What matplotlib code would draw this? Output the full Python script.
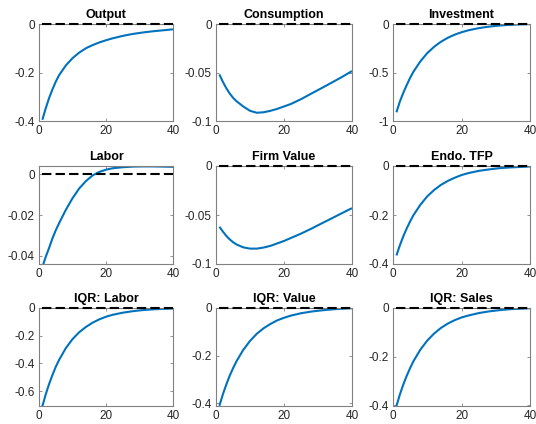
import numpy as np
import matplotlib
matplotlib.use('Agg')
import matplotlib.pyplot as plt
from matplotlib.ticker import FuncFormatter

# impulse responses (periods after the shock)
periods = [1, 2, 3, 4, 5, 6, 8, 10, 12, 14, 16, 18, 20, 22, 25, 28, 31, 34, 37, 40]

titles = ['Output', 'Consumption', 'Investment',
          'Labor', 'Firm Value', 'Endo. TFP',
          'IQR: Labor', 'IQR: Value', 'IQR: Sales']

output = [-0.395, -0.348, -0.306, -0.27, -0.238, -0.211, -0.171, -0.141, -0.118, -0.1,
          -0.087, -0.076, -0.067, -0.059, -0.049, -0.041, -0.035, -0.03, -0.026, -0.022]
consumption = [-0.052, -0.0595, -0.066, -0.0715, -0.076, -0.0795, -0.085, -0.0895, -0.0915, -0.091,
               -0.0895, -0.0875, -0.085, -0.0825, -0.0775, -0.0718, -0.0662, -0.0605, -0.0547, -0.0485]
investment = [-0.91, -0.80, -0.71, -0.63, -0.555, -0.49, -0.385, -0.30, -0.235, -0.183,
              -0.142, -0.11, -0.085, -0.065, -0.043, -0.027, -0.016, -0.009, -0.004, -0.001]
labor = [-0.0455, -0.0405, -0.0362, -0.0315, -0.0275, -0.024, -0.0175, -0.0118, -0.007, -0.0034,
         -0.0006, 0.0011, 0.0022, 0.0029, 0.0034, 0.0037, 0.0038, 0.0038, 0.0037, 0.0036]
firm_value = [-0.062, -0.0668, -0.0712, -0.0748, -0.0777, -0.08, -0.083, -0.0843, -0.0843, -0.0832,
              -0.0815, -0.079, -0.0765, -0.0735, -0.069, -0.064, -0.0587, -0.0535, -0.0482, -0.043]
endo_tfp = [-0.365, -0.324, -0.287, -0.255, -0.226, -0.2, -0.158, -0.124, -0.098, -0.077,
            -0.061, -0.048, -0.037, -0.029, -0.02, -0.014, -0.009, -0.006, -0.004, -0.002]
iqr_labor = [-0.71, -0.625, -0.55, -0.485, -0.425, -0.375, -0.29, -0.225, -0.175, -0.137,
             -0.106, -0.082, -0.063, -0.049, -0.034, -0.023, -0.015, -0.01, -0.006, -0.004]
iqr_value = [-0.41, -0.363, -0.322, -0.285, -0.253, -0.224, -0.176, -0.138, -0.108, -0.085,
             -0.067, -0.052, -0.041, -0.032, -0.022, -0.015, -0.01, -0.006, -0.003, -0.001]
iqr_sales = [-0.403, -0.356, -0.315, -0.279, -0.247, -0.218, -0.171, -0.134, -0.105, -0.082,
             -0.064, -0.05, -0.039, -0.031, -0.021, -0.014, -0.009, -0.005, -0.003, -0.001]

series = [output, consumption, investment, labor, firm_value, endo_tfp,
          iqr_labor, iqr_value, iqr_sales]

y_limits = [(-0.4, 0), (-0.1, 0), (-1, 0),
            (-0.044, 0.004), (-0.1, 0), (-0.4, 0),
            (-0.708, 0), (-0.411, 0), (-0.403, 0)]
y_ticks = [[-0.4, -0.2, 0], [-0.1, -0.05, 0], [-1, -0.5, 0],
           [-0.04, -0.02, 0], [-0.1, -0.05, 0], [-0.4, -0.2, 0],
           [-0.6, -0.4, -0.2, 0], [-0.4, -0.2, 0], [-0.4, -0.2, 0]]
x_ticks = [0, 20, 40]

plt.rcParams['font.family'] = ['Liberation Sans', 'DejaVu Sans']
plt.rcParams['axes.unicode_minus'] = False

fig = plt.figure(figsize=(5.36, 4.24), dpi=100)

# axes boxes in pixels (left, right) per column and (top, bottom) per row
cols = [(39, 173), (216, 352), (393, 530)]
rows = [(24, 121), (166, 264), (308, 406)]
W, H = 536, 424

fmt = FuncFormatter(lambda v, p: '%g' % v)

for i, (title, y) in enumerate(zip(titles, series)):
    c0, c1 = cols[i % 3]
    r0, r1 = rows[i // 3]
    ax = fig.add_axes([c0 / W, 1 - r1 / H, (c1 - c0) / W, (r1 - r0) / H])
    ax.plot(periods, y, color='#0072BD', lw=1.5, solid_capstyle='butt')
    # zero line drawn over the box so it is not cut in half at the top edge
    ax.plot([periods[0], periods[-1]], [0, 0], color='k', lw=1.5,
            dashes=(4.5, 2.0), clip_on=False, zorder=5)
    ax.set_xlim(0, 40)
    ax.set_ylim(*y_limits[i])
    ax.set_xticks(x_ticks)
    ax.set_yticks(y_ticks[i])
    ax.yaxis.set_major_formatter(fmt)
    ax.xaxis.set_major_formatter(fmt)
    ax.tick_params(direction='in', length=2.5, width=0.6, top=True, right=True,
                   labelsize=8.5, colors='0.5', labelcolor='0.15', pad=3)
    for s in ax.spines.values():
        s.set_color('0.5')
        s.set_linewidth(0.8)
    ax.set_title(title, fontsize=9, fontweight='bold', pad=4)

fig.savefig('out.png', dpi=100)
